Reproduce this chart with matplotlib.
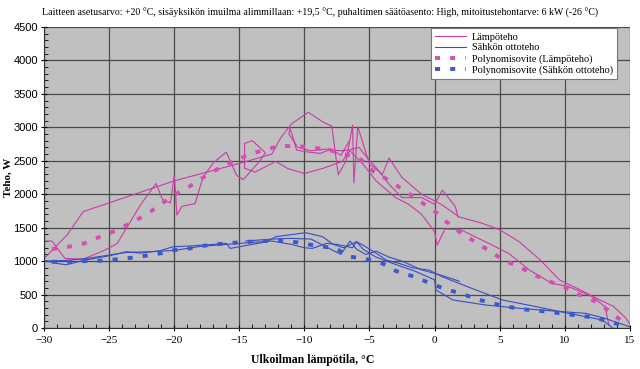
import matplotlib
matplotlib.use("Agg")
import matplotlib.pyplot as plt
import numpy as np
from matplotlib.ticker import MultipleLocator

title = ("Laitteen asetusarvo: +20 \u00b0C, sis\u00e4yksik\u00f6n imuilma alimmillaan: +19,5 \u00b0C, "
         "puhaltimen s\u00e4\u00e4t\u00f6asento: High, mitoitustehontarve: 6 kW (-26 \u00b0C)")

# measured heat output (W), several runs vs outdoor temperature (C)
heat_a_t = [15.0, 14.7, 13.7, 12.6, 11.1, 9.6, 8.1, 6.5, 5.0, 3.6, 1.9, 0.5, -1.0, -2.5, -3.5, -4.0,
            -5.0, -5.9, -6.2, -6.3, -6.8, -7.4, -7.9, -8.5, -9.7, -11.0, -11.8, -12.5, -15.0, -20.0,
            -27.0, -28.2, -30.0]
heat_a_w = [60, 150, 330, 430, 580, 720, 1020, 1290, 1470, 1570, 1660, 1850, 2000, 2250, 2540, 2300,
            2450, 3010, 2170, 3035, 2500, 2290, 3020, 3070, 3225, 3050, 2850, 2600, 2460, 2200,
            1740, 1400, 1040]
heat_b_t = [-30.0, -29.4, -28.4, -27.0, -25.5, -24.4, -23.5, -22.6, -21.4, -20.9, -20.3, -20.0, -19.8,
            -19.4, -18.4, -17.8, -17.0, -16.0, -15.2, -14.7, -13.5, -13.0, -14.0, -14.6, -14.6, -13.8,
            -12.2, -11.3, -10.0, -8.6, -7.1, -6.5, -5.5, -4.5, -3.0, -2.0, -1.0, 0.0, 0.2, 0.8, 2.0,
            3.9, 5.7, 7.3, 9.0, 10.3, 12.1, 13.1, 13.4]
heat_b_w = [1300, 1300, 1040, 1030, 1150, 1260, 1550, 1840, 2160, 1920, 1870, 2280, 1690,
            1820, 1860, 2250, 2470, 2630, 2280, 2220, 2480, 2620, 2800, 2760, 2390, 2330,
            2490, 2385, 2310, 2385, 2490, 2650, 2450, 2200, 1950, 1850, 1700, 1440, 1240, 1480, 1470,
            1290, 1115, 865, 670, 620, 470, 320, 45]
heat_c_t = [1.8, 1.6, 0.6, 0.0, -1.0, -2.5, -3.5, -4.5, -5.2, -5.8, -6.6, -7.0, -8.1, -8.8, -9.9,
            -10.6, -11.1, -11.2, -10.5, -9.5, -8.0, -7.2, -6.6]
heat_c_w = [1660, 1815, 2060, 1850, 1950, 1950, 2150, 2400, 2550, 2700, 2660, 2650, 2660, 2610, 2635,
            2660, 2990, 2900, 2700, 2650, 2680, 2580, 2780]

# measured electric input (W)
elec_a_t = [-30.0, -29.0, -28.3, -27.0, -25.0, -23.7, -22.6, -21.1, -20.1, -18.5, -16.0, -15.7, -15.0,
            -12.9, -12.2, -9.9, -8.6, -7.8, -7.0, -6.0, -5.5, -4.5, -3.7, -2.7, -1.7, -0.4, 0.6,
            2.9, 5.2, 7.8, 10.3, 12.9, 13.7]
elec_a_w = [1010, 965, 945, 1010, 1080, 1140, 1120, 1155, 1215, 1230, 1265, 1190, 1215,
            1290, 1365, 1425, 1365, 1250, 1200, 1290, 1240, 1120, 1015, 965, 900, 865, 765,
            590, 420, 320, 220, 120, 0]
elec_b_t = [15.0, 14.2, 13.1, 11.6, 9.1, 6.5, 3.9, 1.4, 0.1, 0.0, -1.5, -3.0, -4.5, -5.5, -6.0, -6.3,
            -7.5, -8.3, -9.4, -10.0, -11.0, -12.5, -14.0, -16.0, -18.0, -20.0, -22.0, -23.7, -26.7,
            -28.3, -30.0]
elec_b_w = [20, 70, 145, 220, 255, 295, 345, 420, 570, 720, 850, 950, 1060, 1180, 1290, 1200,
            1250, 1265, 1190, 1200, 1250, 1300, 1280, 1250, 1220, 1160, 1140, 1130, 1040,
            1010, 1000]
elec_c_t = [1.9, 0.5, -1.0, -2.5, -3.5, -4.5, -5.3, -6.0, -6.5, -7.2, -8.0, -9.5, -11.1, -12.5, -14.5]
elec_c_w = [700, 790, 870, 1000, 1060, 1150, 1100, 1180, 1300, 1100, 1180, 1330, 1340, 1330, 1300]

# polynomial fits
fit_t = [-29.4, -28.1, -26.9, -25.7, -24.5, -23.3, -22.2, -21.1, -20.0, -18.8, -17.7, -16.6, -15.4,
         -14.2, -13.0, -11.8, -10.5, -9.4, -8.1, -6.8, -5.6, -4.7, -3.5, -2.3, -1.3, -0.1, 0.9,
         1.9, 3.1, 4.2, 5.3, 6.5, 7.7, 8.8, 10.1, 11.2, 12.4, 13.5, 14.6]
fit_heat = [1180, 1215, 1266, 1365, 1455, 1575, 1690, 1840, 1990, 2120, 2260, 2385, 2500,
            2595, 2670, 2720, 2720, 2700, 2660, 2595, 2510, 2340, 2205, 2055, 1915, 1765, 1590,
            1440, 1290, 1155, 1015, 915, 790, 700, 600, 490, 395, 245, 70]
fit_elec_t = [-29.4, -28.1, -26.9, -25.7, -24.5, -23.3, -22.2, -21.1, -20.0, -18.8, -17.7, -16.6, -15.4,
              -14.2, -13.0, -11.8, -10.5, -9.4, -7.6, -6.5, -5.4, -4.0, -3.0, -1.7, -0.4, 0.9,
              2.0, 3.2, 4.4, 5.6, 6.8, 7.9, 9.1, 10.2, 11.4, 12.5, 13.7, 14.7]
fit_elec = [990, 990, 1000, 1005, 1025, 1050, 1080, 1115, 1165, 1190, 1230, 1255, 1275,
            1290, 1300, 1305, 1280, 1240, 1190, 1065, 1040, 965, 855, 775, 675, 575,
            520, 435, 370, 320, 280, 260, 235, 205, 180, 145, 80, 30]

heat_col = "#cc3aa6"
elec_col = "#3a4cc0"

fig = plt.figure(figsize=(6.4, 3.69), dpi=100)
ax = fig.add_axes([0.069, 0.111, 0.915, 0.816])
ax.set_facecolor("#c0c0c0")

ax.plot(heat_a_t, heat_a_w, color=heat_col, lw=0.8, label="L\u00e4mp\u00f6teho")
ax.plot(heat_b_t, heat_b_w, color=heat_col, lw=0.8)
ax.plot(heat_c_t, heat_c_w, color=heat_col, lw=0.8)
ax.plot(elec_a_t, elec_a_w, color=elec_col, lw=0.8, label="S\u00e4hk\u00f6n ottoteho")
ax.plot(elec_b_t, elec_b_w, color=elec_col, lw=0.8)
ax.plot(elec_c_t, elec_c_w, color=elec_col, lw=0.8)
ax.plot(fit_t, fit_heat, color="#d84cb4", lw=2.8, dashes=(1.3, 2.6),
        label="Polynomisovite (L\u00e4mp\u00f6teho)")
ax.plot(fit_elec_t, fit_elec, color="#3c58cc", lw=2.8, dashes=(1.3, 2.6),
        label="Polynomisovite (S\u00e4hk\u00f6n ottoteho)")

ax.set_xlim(-30, 15)
ax.set_ylim(0, 4500)
ax.xaxis.set_major_locator(MultipleLocator(5))
ax.xaxis.set_minor_locator(MultipleLocator(1))
ax.yaxis.set_major_locator(MultipleLocator(500))
ax.yaxis.set_minor_locator(MultipleLocator(100))
ax.grid(True, which="major", color="#4a4a4a", lw=0.9)
ax.set_axisbelow(True)
ax.tick_params(which="major", direction="inout", length=5, width=0.8, labelsize=8)
ax.tick_params(axis="y", which="major", pad=2)
ax.tick_params(which="minor", direction="in", length=3, width=0.6)
for lab in ax.get_xticklabels():
    lab.set_family("Liberation Serif")
for lab in ax.get_yticklabels():
    lab.set_family("Liberation Sans")
for s in ["top", "right"]:
    ax.spines[s].set_visible(False)
for s in ["left", "bottom"]:
    ax.spines[s].set_color("#333333")

ax.set_xlabel("Ulkoilman l\u00e4mp\u00f6tila, \u00b0C", family="Liberation Serif",
              fontweight="bold", fontsize=8.5, labelpad=1)
ax.xaxis.set_label_coords(0.459, -0.085)
ax.set_ylabel("Teho, W", family="Liberation Serif", fontweight="bold", fontsize=8)
ax.yaxis.set_label_coords(-0.054, 0.5)
fig.text(0.066, 0.965, title, family="Liberation Serif", fontsize=7.1, va="center", ha="left")

leg = ax.legend(loc="upper right", bbox_to_anchor=(0.979, 0.995),
                prop={"family": "Liberation Serif", "size": 7.4}, fancybox=False,
                framealpha=1, edgecolor="#777777", handlelength=3.0, labelspacing=0.15,
                borderpad=0.4, borderaxespad=0, handletextpad=0.6)
leg.get_frame().set_linewidth(0.8)

fig.savefig("out.png", dpi=100)
